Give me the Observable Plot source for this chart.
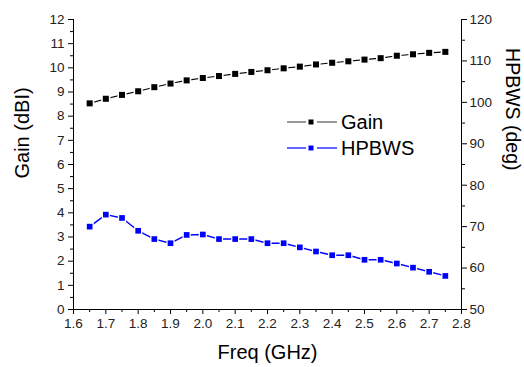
<!DOCTYPE html>
<html>
<head>
<meta charset="utf-8">
<script src="https://cdn.jsdelivr.net/npm/d3@7"></script>
<script src="https://cdn.jsdelivr.net/npm/@observablehq/plot@0.6"></script>
<style>
  html, body { margin: 0; padding: 0; background: #fff; }
  #wrap { position: relative; width: 524px; height: 367px; font-family: "Liberation Sans", Arial, sans-serif; }
  #legend { position: absolute; left: 287px; top: 109px; font-size: 20px; color: #000; line-height: 26px; }
  #legend .row { display: flex; align-items: center; height: 26px; }
  #legend svg { margin-right: 4px; }
</style>
</head>
<body>
<div id="wrap"><div id="legend"></div></div>
<script>
// ---- data ----
const freq = [1.65, 1.70, 1.75, 1.80, 1.85, 1.90, 1.95, 2.00, 2.05, 2.10, 2.15, 2.20,
              2.25, 2.30, 2.35, 2.40, 2.45, 2.50, 2.55, 2.60, 2.65, 2.70, 2.75];
const gain = [8.53, 8.72, 8.88, 9.03, 9.20, 9.35, 9.48, 9.58, 9.66, 9.75, 9.83, 9.90,
              9.98, 10.05, 10.14, 10.21, 10.27, 10.34, 10.40, 10.50, 10.56, 10.62, 10.66];
const hpbws = [70.0, 72.9, 72.1, 69.0, 67.0, 66.0, 68.0, 68.1, 67.0, 67.0, 67.0, 66.0,
               66.0, 65.0, 64.0, 63.1, 63.1, 62.0, 62.0, 61.1, 60.1, 59.1, 58.1];
const xTicks = [1.6, 1.7, 1.8, 1.9, 2.0, 2.1, 2.2, 2.3, 2.4, 2.5, 2.6, 2.7, 2.8];
const xMinor = [1.65, 1.75, 1.85, 1.95, 2.05, 2.15, 2.25, 2.35, 2.45, 2.55, 2.65, 2.75];
const yTicks = [0, 1, 2, 3, 4, 5, 6, 7, 8, 9, 10, 11, 12];
const yMinor = [0.5, 1.5, 2.5, 3.5, 4.5, 5.5, 6.5, 7.5, 8.5, 9.5, 10.5, 11.5];
const y2Ticks = [50, 60, 70, 80, 90, 100, 110, 120];
const y2Minor = [55, 65, 75, 85, 95, 105, 115];
const xDomain = [1.6, 2.8];
const yDomain = [0, 12];
const y2Domain = [50, 120];

// map right axis values onto left scale
const toLeft = v => yDomain[0] + (v - y2Domain[0]) / (y2Domain[1] - y2Domain[0]) * (yDomain[1] - yDomain[0]);
const fromLeft = v => y2Domain[0] + (v - yDomain[0]) / (yDomain[1] - yDomain[0]) * (y2Domain[1] - y2Domain[0]);

const gainData = freq.map((f, i) => ({f, v: gain[i]}));
const hpData = freq.map((f, i) => ({f, v: toLeft(hpbws[i])}));

const font = "'Liberation Sans', Arial, sans-serif";
const blue = "#0000ff";

const chart = Plot.plot({
  width: 524,
  height: 367,
  marginLeft: 73,
  marginRight: 63,
  marginTop: 19,
  marginBottom: 58,
  style: {fontFamily: font, background: "#fff", color: "#000", overflow: "visible"},
  x: {domain: xDomain},
  y: {domain: yDomain},
  marks: [
    // axis lines
    Plot.ruleY([yDomain[0]], {stroke: "#000", strokeWidth: 1}),
    Plot.ruleX([xDomain[0]], {stroke: "#000", strokeWidth: 1}),
    Plot.ruleX([xDomain[1]], {stroke: "#000", strokeWidth: 1}),
    // x axis
    Plot.axisX({ticks: xTicks, tickSize: 5, tickPadding: 4, tickFormat: d3.format(".1f"), fontSize: 13.5, fill: "#222", label: null}),
    Plot.axisX({ticks: xMinor, tickSize: 3, fill: "none"}),
    // left y axis
    Plot.axisY({ticks: yTicks, tickSize: 5, tickPadding: 4, tickFormat: d3.format("d"), fontSize: 13.5, fill: "#222", label: null}),
    Plot.axisY({ticks: yMinor, tickSize: 3, fill: "none"}),
    // right y axis
    Plot.axisY({anchor: "right", ticks: y2Ticks.map(toLeft), tickSize: 5, tickPadding: 3,
                tickFormat: d => String(Math.round(fromLeft(d))), fontSize: 13.5, fill: "#222", label: null}),
    Plot.axisY({anchor: "right", ticks: y2Minor.map(toLeft), tickSize: 3, fill: "none"}),
    // series (white halo squares create the gap between line and symbol)
    Plot.line(gainData, {x: "f", y: "v", stroke: "#000", strokeWidth: 1.1}),
    Plot.dot(gainData, {x: "f", y: "v", symbol: "square", r: 5.2, fill: "#fff"}),
    Plot.dot(gainData, {x: "f", y: "v", symbol: "square", r: 3.4, fill: "#000"}),
    Plot.line(hpData, {x: "f", y: "v", stroke: blue, strokeWidth: 1.4}),
    Plot.dot(hpData, {x: "f", y: "v", symbol: "square", r: 4.6, fill: "#fff"}),
    Plot.dot(hpData, {x: "f", y: "v", symbol: "square", r: 3.2, fill: blue}),
    // axis titles
    Plot.text(["Gain (dBI)"], {frameAnchor: "left", rotate: -90, dx: -51, dy: 14, fontSize: 20, fill: "#000"}),
    Plot.text(["HPBWS (deg)"], {frameAnchor: "right", rotate: 90, dx: 51, dy: 6, fontSize: 19.5, fill: "#000"}),
    Plot.text(["Freq (GHz)"], {frameAnchor: "bottom", dy: 49, fontSize: 20, fill: "#000"})
  ]
});
document.getElementById("wrap").prepend(chart);

// legend
const legendItems = [{name: "Gain", color: "#000", line: "#555"}, {name: "HPBWS", color: blue, line: blue}];
const leg = d3.select("#legend");
legendItems.forEach(it => {
  const row = leg.append("div").attr("class", "row");
  const s = row.append("svg").attr("width", 50).attr("height", 20);
  s.append("line").attr("x1", 0).attr("x2", 19).attr("y1", 10).attr("y2", 10).attr("stroke", it.line).attr("stroke-width", 1.2);
  s.append("line").attr("x1", 30).attr("x2", 50).attr("y1", 10).attr("y2", 10).attr("stroke", it.line).attr("stroke-width", 1.2);
  s.append("rect").attr("x", 21.5).attr("y", 7.5).attr("width", 5).attr("height", 5).attr("fill", it.color);
  row.append("span").text(it.name);
});
</script>
</body>
</html>
